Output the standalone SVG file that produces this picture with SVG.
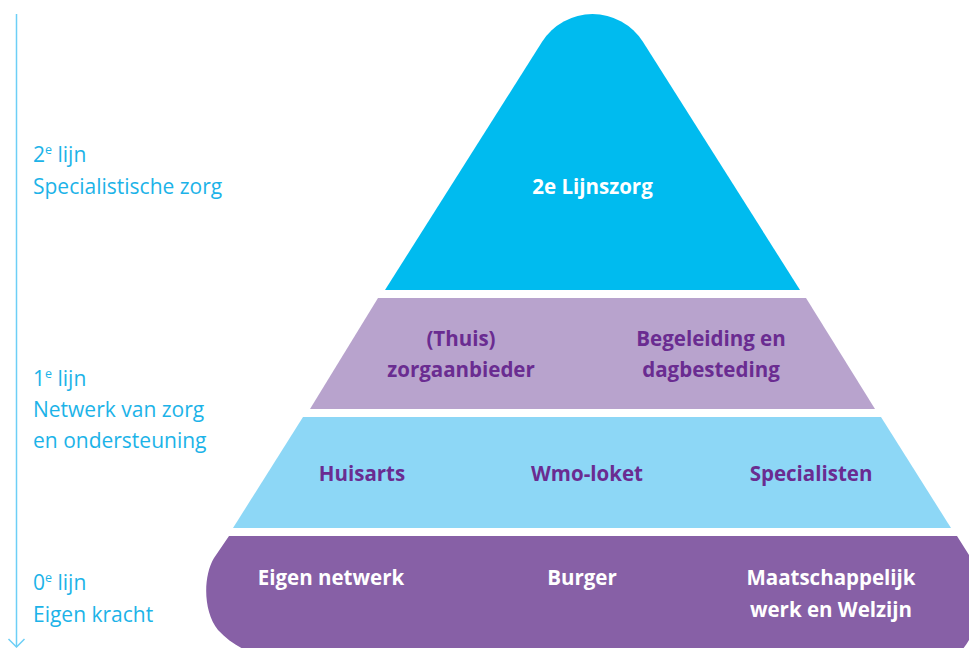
<svg xmlns="http://www.w3.org/2000/svg" width="969" height="648" viewBox="0 0 969 648">
  <defs>
    <style>
      .side { font-family: "Open Sans", "Liberation Sans", sans-serif; font-size: 21px; fill: #1CB3E8; }
      .sup { font-size: 12.5px; }
      .lbl { font-family: "Open Sans", "Liberation Sans", sans-serif; font-size: 20.5px; font-weight: 700; text-anchor: middle; }
      .white { fill: #FFFFFF; }
      .dark { fill: #6A2C91; }
      .axis { fill: none; stroke: #6DCFF6; stroke-width: 1.5; }
    </style>
  </defs>
  <rect width="969" height="648" fill="#FFFFFF"/>

  <!-- vertical axis with open arrowhead -->
  <g id="connectors">
    <line class="axis" x1="16.5" y1="14" x2="16.5" y2="647"/>
    <polyline class="axis" points="8.5,639 16.5,647 24.5,639"/>
  </g>

  <!-- side labels -->
  <g id="label-2e-lijn">
    <text class="side" x="33" y="162">2<tspan class="sup" dy="-8">e</tspan><tspan dy="8"> lijn</tspan></text>
    <text class="side" x="33" y="194">Specialistische zorg</text>
  </g>
  <g id="label-1e-lijn">
    <text class="side" x="33" y="386">1<tspan class="sup" dy="-8">e</tspan><tspan dy="8"> lijn</tspan></text>
    <text class="side" x="33" y="417">Netwerk van zorg</text>
    <text class="side" x="33" y="448">en ondersteuning</text>
  </g>
  <g id="label-0e-lijn">
    <text class="side" x="33" y="590">0<tspan class="sup" dy="-8">e</tspan><tspan dy="8"> lijn</tspan></text>
    <text class="side" x="33" y="622">Eigen kracht</text>
  </g>

  <!-- pyramid tiers -->
  <g id="tier-2e-lijnszorg">
    <path d="M385 290 L542.1 41.8 A59.7 59.7 0 0 1 642.9 41.8 L800 290 Z" fill="#00BBEF"/>
    <text class="lbl white" x="592.5" y="194">2e Lijnszorg</text>
  </g>

  <g id="tier-zorgaanbieders">
    <path d="M378 298 L806 298 L875 409 L310 409 Z" fill="#B8A3CD"/>
    <text class="lbl dark" x="461" y="346">(Thuis)</text>
    <text class="lbl dark" x="461" y="377">zorgaanbieder</text>
    <text class="lbl dark" x="711" y="346">Begeleiding en</text>
    <text class="lbl dark" x="711" y="377">dagbesteding</text>
  </g>

  <g id="tier-eerste-lijn">
    <path d="M303 417 L881 417 L951 528 L233 528 Z" fill="#8DD7F6"/>
    <text class="lbl dark" x="362" y="481">Huisarts</text>
    <text class="lbl dark" x="587" y="481">Wmo-loket</text>
    <text class="lbl dark" x="811" y="481">Specialisten</text>
  </g>

  <g id="tier-eigen-kracht">
    <path d="M229 536 L957 536 L976 566 L976 610 C976 625 972 640 960 652 L960 660 L250 660 L250 652 C240 648 228 641 218 630 C203 612 203 576 214 558 Z" fill="#8760A6"/>
    <text class="lbl white" x="331" y="585">Eigen netwerk</text>
    <text class="lbl white" x="582" y="585">Burger</text>
    <text class="lbl white" x="831" y="585">Maatschappelijk</text>
    <text class="lbl white" x="831" y="617">werk en Welzijn</text>
  </g>
</svg>
